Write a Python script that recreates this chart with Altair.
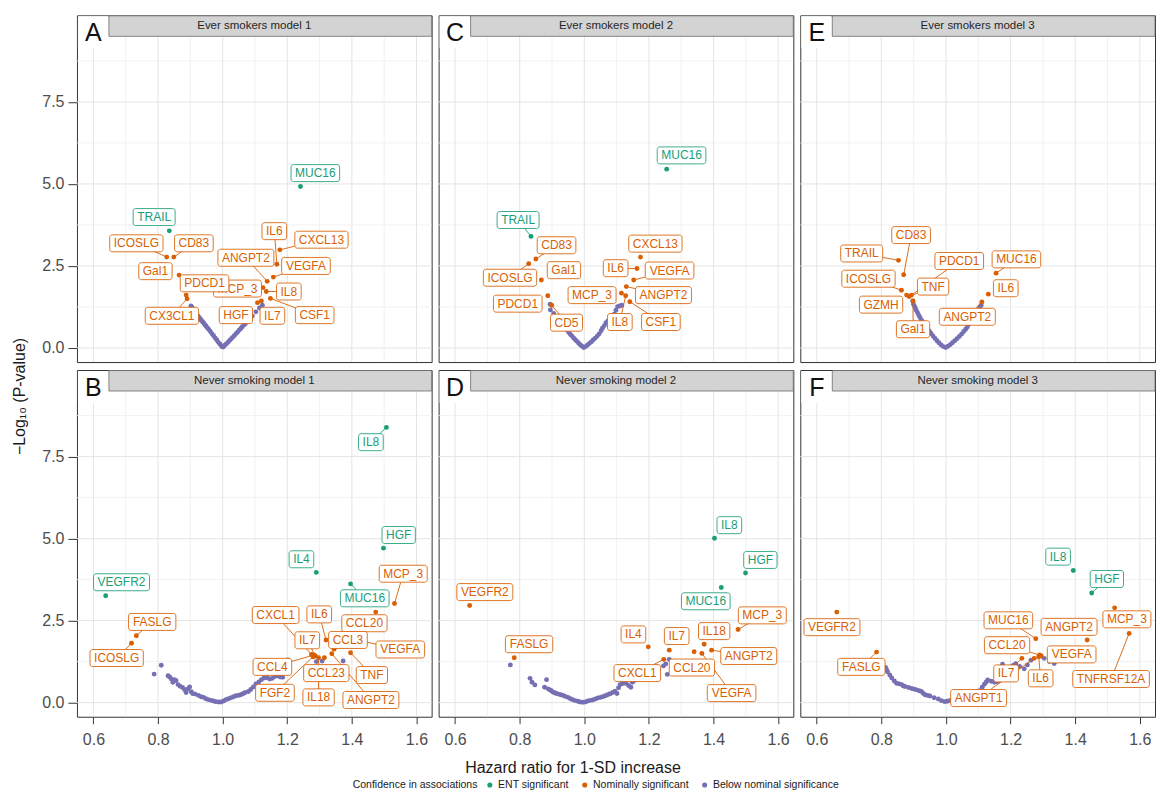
import math
import altair as alt
import pandas as pd

# ---------------- categories / palette ----------------
CAT_NAMES = {"E": "ENT significant", "N": "Nominally significant", "B": "Below nominal significance"}
CATS = ["ENT significant", "Nominally significant", "Below nominal significance"]
COLORS = ["#1B9E77", "#D95F02", "#7570B3"]

X_TICKS = [0.6, 0.8, 1.0, 1.2, 1.4, 1.6]
X_MINOR = [0.7, 0.9, 1.1, 1.3, 1.5]
Y_TICKS = [0.0, 2.5, 5.0, 7.5]
Y_MINOR = [1.25, 3.75, 6.25, 8.75]

# ---------------- panel data: (gene, HR, -log10 p, category, label x, label y) ----------------
A_LABELED = [
    ("MUC16", 1.241, 4.92, "E", 1.287, 5.33),
    ("TRAIL", 0.835, 3.57, "E", 0.788, 3.99),
    ("ICOSLG", 0.827, 2.77, "N", 0.733, 3.19),
    ("CD83", 0.849, 2.77, "N", 0.911, 3.19),
    ("Gal1", 0.865, 2.22, "N", 0.792, 2.34),
    ("PDCD1", 0.887, 1.61, "N", 0.944, 1.97),
    ("CX3CL1", 0.890, 1.50, "N", 0.843, 0.98),
    ("IL6", 1.168, 2.55, "N", 1.160, 3.56),
    ("CXCL13", 1.177, 2.99, "N", 1.306, 3.30),
    ("VEGFA", 1.157, 2.16, "N", 1.258, 2.50),
    ("ANGPT2", 1.138, 2.03, "N", 1.072, 2.75),
    ("MCP_3", 1.125, 1.84, "N", 1.046, 1.81),
    ("IL8", 1.135, 1.72, "N", 1.205, 1.72),
    ("CSF1", 1.148, 1.51, "N", 1.285, 1.00),
    ("IL7", 1.120, 1.43, "N", 1.154, 0.98),
    ("HGF", 1.108, 1.38, "N", 1.041, 1.00),
]
A_BACK = ["MCP_3"]
A_BELOW = [(0.902, 1.28), (0.905, 1.24), (0.910, 1.16), (0.915, 1.09), (0.920, 1.03), (0.924, 0.97),
           (0.928, 0.92), (0.931, 0.88), (0.934, 0.84), (0.938, 0.80), (0.941, 0.76), (0.945, 0.71),
           (0.949, 0.66), (0.953, 0.61), (0.957, 0.56), (0.962, 0.50), (0.967, 0.43), (0.972, 0.37),
           (0.977, 0.30), (0.982, 0.24), (0.987, 0.17), (0.992, 0.11), (0.997, 0.04), (1.002, 0.03),
           (1.007, 0.08), (1.012, 0.13), (1.018, 0.19), (1.024, 0.25), (1.030, 0.31), (1.036, 0.37),
           (1.042, 0.44), (1.047, 0.49), (1.052, 0.55), (1.057, 0.60), (1.061, 0.65), (1.066, 0.70),
           (1.070, 0.74), (1.075, 0.79), (1.080, 0.84), (1.084, 0.90), (1.092, 0.97), (1.103, 1.10),
           (1.114, 1.22), (1.123, 1.30)]

C_LABELED = [
    ("MUC16", 1.255, 5.45, "E", 1.301, 5.87),
    ("TRAIL", 0.835, 3.40, "E", 0.795, 3.90),
    ("CD83", 0.850, 2.71, "N", 0.914, 3.13),
    ("ICOSLG", 0.828, 2.57, "N", 0.770, 2.14),
    ("Gal1", 0.867, 2.07, "N", 0.937, 2.37),
    ("PDCD1", 0.887, 1.59, "N", 0.794, 1.35),
    ("CD5", 0.899, 1.30, "N", 0.945, 0.77),
    ("CXCL13", 1.174, 2.77, "N", 1.220, 3.18),
    ("IL6", 1.163, 2.42, "N", 1.097, 2.43),
    ("VEGFA", 1.153, 2.07, "N", 1.264, 2.36),
    ("ANGPT2", 1.130, 1.87, "N", 1.245, 1.61),
    ("MCP_3", 1.115, 1.67, "N", 1.024, 1.61),
    ("IL8", 1.128, 1.59, "N", 1.110, 0.79),
    ("CSF1", 1.141, 1.41, "N", 1.237, 0.79),
]
C_BACK = []
C_BELOW = [(0.894, 1.33), (0.895, 1.16), (0.905, 1.05), (0.915, 0.93), (0.922, 0.85), (0.928, 0.79),
           (0.933, 0.73), (0.938, 0.66), (0.943, 0.60), (0.948, 0.53), (0.952, 0.47), (0.957, 0.41),
           (0.962, 0.36), (0.967, 0.30), (0.972, 0.25), (0.977, 0.20), (0.982, 0.15), (0.987, 0.10),
           (0.992, 0.06), (0.998, 0.01), (1.004, 0.04), (1.010, 0.09), (1.016, 0.14), (1.022, 0.19),
           (1.028, 0.25), (1.034, 0.30), (1.040, 0.36), (1.046, 0.43), (1.052, 0.52), (1.056, 0.60),
           (1.062, 0.68), (1.067, 0.77), (1.073, 0.82), (1.080, 0.88), (1.087, 0.95), (1.093, 1.03),
           (1.098, 1.15), (1.103, 1.26), (1.110, 1.28), (1.116, 1.30)]

E_LABELED = [
    ("TRAIL", 0.853, 2.67, "N", 0.739, 2.88),
    ("CD83", 0.869, 2.23, "N", 0.892, 3.44),
    ("ICOSLG", 0.862, 1.76, "N", 0.760, 2.11),
    ("PDCD1", 0.893, 1.61, "N", 1.041, 2.65),
    ("TNF", 0.886, 1.57, "N", 0.960, 1.87),
    ("GZMH", 0.878, 1.61, "N", 0.799, 1.32),
    ("Gal1", 0.898, 1.43, "N", 0.898, 0.57),
    ("MUC16", 1.155, 2.28, "N", 1.218, 2.70),
    ("IL6", 1.131, 1.64, "N", 1.185, 1.82),
    ("ANGPT2", 1.111, 1.40, "N", 1.066, 0.95),
]
E_BACK = []
E_BELOW = [(0.897, 1.43), (0.899, 1.34), (0.902, 1.28), (0.905, 1.22), (0.908, 1.15), (0.912, 1.07),
           (0.916, 0.99), (0.920, 0.92), (0.925, 0.84), (0.931, 0.76), (0.936, 0.68), (0.942, 0.60),
           (0.948, 0.52), (0.954, 0.44), (0.960, 0.36), (0.966, 0.29), (0.972, 0.22), (0.978, 0.16),
           (0.985, 0.09), (0.992, 0.04), (0.999, 0.01), (1.006, 0.05), (1.013, 0.10), (1.020, 0.16),
           (1.027, 0.22), (1.034, 0.28), (1.041, 0.35), (1.048, 0.42), (1.055, 0.50), (1.061, 0.57),
           (1.066, 0.64), (1.071, 0.72), (1.077, 0.79), (1.083, 0.86), (1.088, 0.94), (1.093, 1.02),
           (1.098, 1.09), (1.102, 1.17), (1.105, 1.25), (1.109, 1.30)]

B_LABELED = [
    ("IL8", 1.507, 8.39, "E", 1.459, 7.94),
    ("HGF", 1.498, 4.71, "E", 1.545, 5.11),
    ("IL4", 1.290, 3.97, "E", 1.244, 4.37),
    ("MUC16", 1.396, 3.62, "E", 1.440, 3.18),
    ("VEGFR2", 0.638, 3.26, "E", 0.687, 3.67),
    ("MCP_3", 1.532, 3.02, "N", 1.559, 3.93),
    ("CCL20", 1.474, 2.76, "N", 1.439, 2.42),
    ("FASLG", 0.733, 2.04, "N", 0.782, 2.46),
    ("ICOSLG", 0.718, 1.81, "N", 0.672, 1.36),
    ("IL6", 1.320, 1.91, "N", 1.299, 2.69),
    ("CCL3", 1.345, 1.63, "N", 1.388, 1.91),
    ("VEGFA", 1.420, 1.90, "N", 1.550, 1.62),
    ("TNF", 1.396, 1.52, "N", 1.462, 0.84),
    ("ANGPT2", 1.338, 1.49, "N", 1.459, 0.08),
    ("CXCL1", 1.275, 1.47, "N", 1.164, 2.67),
    ("IL7", 1.287, 1.42, "N", 1.262, 1.90),
    ("CCL4", 1.283, 1.45, "N", 1.154, 1.09),
    ("FGF2", 1.280, 1.40, "N", 1.162, 0.30),
    ("CCL23", 1.315, 1.37, "N", 1.321, 0.90),
    ("IL18", 1.297, 1.37, "N", 1.297, 0.16),
]
B_BACK = []
B_BELOW = [(0.788, 0.87), (0.810, 1.14), (0.831, 0.82), (0.836, 0.78), (0.841, 0.72), (0.846, 0.62),
           (0.851, 0.70), (0.856, 0.67), (0.862, 0.55), (0.868, 0.50), (0.876, 0.46), (0.882, 0.40),
           (0.887, 0.31), (0.893, 0.42), (0.898, 0.48), (0.903, 0.33), (0.907, 0.28), (0.915, 0.26),
           (0.925, 0.22), (0.933, 0.18), (0.941, 0.16), (0.948, 0.12), (0.956, 0.09), (0.964, 0.07),
           (0.972, 0.05), (0.979, 0.03), (0.987, 0.02), (0.995, 0.02), (1.003, 0.05), (1.010, 0.09),
           (1.018, 0.12), (1.026, 0.15), (1.034, 0.18), (1.041, 0.21), (1.049, 0.22), (1.056, 0.24),
           (1.063, 0.27), (1.070, 0.31), (1.080, 0.34), (1.087, 0.40), (1.095, 0.48), (1.103, 0.57),
           (1.112, 0.63), (1.120, 0.70), (1.128, 0.75), (1.138, 0.76), (1.146, 0.72), (1.154, 0.74),
           (1.162, 0.80), (1.170, 0.82), (1.178, 0.78), (1.186, 0.77), (1.193, 1.10), (1.197, 1.20),
           (1.202, 1.30), (1.290, 1.25), (1.308, 1.27), (1.373, 1.27)]

D_LABELED = [
    ("IL8", 1.403, 5.01, "E", 1.449, 5.41),
    ("HGF", 1.499, 3.95, "E", 1.545, 4.35),
    ("MUC16", 1.424, 3.51, "E", 1.376, 3.09),
    ("VEGFR2", 0.645, 2.96, "N", 0.692, 3.37),
    ("MCP_3", 1.476, 2.23, "N", 1.551, 2.66),
    ("IL18", 1.371, 1.78, "N", 1.402, 2.18),
    ("ANGPT2", 1.394, 1.60, "N", 1.509, 1.42),
    ("IL4", 1.198, 1.70, "N", 1.152, 2.08),
    ("IL7", 1.263, 1.60, "N", 1.286, 2.03),
    ("FASLG", 0.783, 1.37, "N", 0.829, 1.78),
    ("CXCL1", 1.246, 1.32, "N", 1.164, 0.90),
    ("CCL20", 1.340, 1.55, "N", 1.333, 1.07),
    ("VEGFA", 1.364, 1.50, "N", 1.456, 0.29),
]
D_BACK = []
D_BELOW = [(0.771, 1.15), (0.832, 0.74), (0.838, 0.62), (0.847, 0.54), (0.877, 0.47), (0.883, 0.70),
           (0.888, 0.42), (0.893, 0.39), (0.898, 0.36), (0.903, 0.32), (0.908, 0.30), (0.913, 0.28),
           (0.920, 0.26), (0.927, 0.24), (0.934, 0.22), (0.941, 0.19), (0.949, 0.16), (0.957, 0.12),
           (0.964, 0.09), (0.972, 0.06), (0.980, 0.04), (0.987, 0.02), (0.995, 0.01), (1.003, 0.02),
           (1.011, 0.05), (1.019, 0.07), (1.026, 0.08), (1.034, 0.11), (1.042, 0.14), (1.050, 0.16),
           (1.057, 0.18), (1.065, 0.21), (1.072, 0.24), (1.080, 0.27), (1.088, 0.31), (1.095, 0.35),
           (1.101, 0.28), (1.106, 0.45), (1.111, 0.55), (1.118, 0.58), (1.124, 0.60), (1.129, 0.59),
           (1.137, 0.52), (1.144, 0.47), (1.149, 0.62), (1.154, 0.67), (1.245, 1.12), (1.252, 1.18),
           (1.257, 0.86), (1.263, 1.32)]

F_LABELED = [
    ("IL8", 1.394, 4.03, "E", 1.347, 4.45),
    ("HGF", 1.451, 3.34, "E", 1.498, 3.77),
    ("MCP_3", 1.522, 2.89, "N", 1.560, 2.54),
    ("TNFRSF12A", 1.567, 2.11, "N", 1.511, 0.72),
    ("ANGPT2", 1.437, 1.91, "N", 1.381, 2.31),
    ("VEGFR2", 0.662, 2.76, "N", 0.647, 2.30),
    ("FASLG", 0.785, 1.54, "N", 0.738, 1.09),
    ("MUC16", 1.278, 1.95, "N", 1.193, 2.51),
    ("CCL20", 1.290, 1.45, "N", 1.189, 1.75),
    ("VEGFA", 1.295, 1.42, "N", 1.389, 1.47),
    ("IL6", 1.287, 1.40, "N", 1.293, 0.74),
    ("IL7", 1.235, 1.35, "N", 1.186, 0.89),
    ("ANGPT1", 1.273, 1.35, "N", 1.101, 0.14),
]
F_BACK = []
F_BELOW = [(0.813, 1.07), (0.816, 1.00), (0.819, 0.94), (0.826, 0.84), (0.832, 0.75), (0.840, 0.66),
           (0.847, 0.59), (0.855, 0.57), (0.863, 0.55), (0.868, 0.51), (0.873, 0.49), (0.884, 0.46),
           (0.894, 0.43), (0.902, 0.41), (0.909, 0.39), (0.917, 0.36), (0.924, 0.34), (0.930, 0.28),
           (0.935, 0.24), (0.943, 0.22), (0.950, 0.20), (0.963, 0.15), (0.976, 0.11), (0.986, 0.06),
           (0.996, 0.03), (1.004, 0.04), (1.011, 0.06), (1.019, 0.08), (1.027, 0.10), (1.037, 0.13),
           (1.047, 0.16), (1.057, 0.19), (1.068, 0.21), (1.078, 0.26), (1.088, 0.31), (1.096, 0.33),
           (1.104, 0.36), (1.112, 0.47), (1.119, 0.56), (1.124, 0.62), (1.129, 0.69), (1.140, 0.65),
           (1.150, 0.62), (1.158, 0.64), (1.165, 0.67), (1.170, 0.84), (1.175, 1.17), (1.181, 1.02),
           (1.186, 0.92), (1.194, 1.00), (1.201, 1.09), (1.209, 1.14), (1.216, 1.19), (1.228, 1.10),
           (1.242, 1.03), (1.252, 1.15), (1.263, 1.29), (1.304, 1.35), (1.320, 1.25), (1.335, 1.19)]

# ---------------- layout constants ----------------
XMIN, XMAX = 0.549, 1.647
YMIN, YPLOT, YTOP = -0.43, 9.5, 10.14
W, H, STRIP = 355, 347, 21
SX = W / (XMAX - XMIN)
SY = H / (YTOP - YMIN)
FONT = "Liberation Sans"
LABEL_FS = 12
MIN_SEGMENT = 8  # px, like ggrepel's min.segment.length

CHAR_W = {'A': 667, 'B': 667, 'C': 722, 'D': 722, 'E': 667, 'F': 611, 'G': 778, 'H': 722, 'I': 278,
          'J': 500, 'K': 667, 'L': 556, 'M': 833, 'N': 722, 'O': 778, 'P': 667, 'Q': 778, 'R': 722,
          'S': 667, 'T': 611, 'U': 722, 'V': 667, 'W': 944, 'X': 667, 'Y': 667, 'Z': 611, '_': 556,
          'a': 556, 'l': 222}


def text_w(s):
    return sum(CHAR_W.get(ch, 556) for ch in s) * LABEL_FS / 1000.0


xs = alt.Scale(domain=[XMIN, XMAX], nice=False, zero=False)
ys = alt.Scale(domain=[YMIN, YTOP], nice=False, zero=False)
cscale = alt.Scale(domain=CATS, range=COLORS)

LEGEND = alt.Legend(title="Confidence in associations", orient="none", legendX=276, legendY=765,
                    direction="horizontal", titleOrient="left", titleFontSize=10.5,
                    titleFontWeight="normal", titleColor="#1a1a1a", titleFont=FONT,
                    labelFontSize=10.5, labelColor="#1a1a1a", labelFont=FONT, symbolSize=26,
                    symbolType="circle", symbolStrokeWidth=0, labelOffset=3, columnPadding=10,
                    titlePadding=7, padding=0)


def x_axis(show, with_title=False):
    if not show:
        return None
    kw = dict(values=X_TICKS, format=".1f", grid=False, domain=False, tickSize=7,
              tickColor="#333333", labelFontSize=16, labelColor="#4D4D4D", labelPadding=8,
              labelFlush=False, labelFont=FONT)
    if with_title:
        kw.update(title="Hazard ratio for 1-SD increase", titleX=134, titleY=51, titleFontSize=16,
                  titleFontWeight="normal", titleColor="#1a1a1a", titleBaseline="middle",
                  titleAlign="center", titleFont=FONT)
    else:
        kw["title"] = None
    return alt.Axis(**kw)


def y_axis(show, with_title=False):
    if not show:
        return None
    kw = dict(values=Y_TICKS, format=".1f", grid=False, domain=False, tickSize=9,
              tickColor="#333333", labelFontSize=16, labelColor="#4D4D4D", labelPadding=4,
              labelFlush=False, labelFont=FONT)
    if with_title:
        kw.update(title="\u2212Log\u2081\u2080 (P-value)", titleX=-57, titleY=381, titleAngle=270,
                  titleFontSize=16, titleFontWeight="normal", titleColor="#1a1a1a",
                  titleBaseline="middle", titleAlign="center", titleFont=FONT)
    else:
        kw["title"] = None
    return alt.Axis(**kw)


def panel(letter, title, labeled, below, back, xa, ya):
    X = lambda f: alt.X(f, scale=xs, axis=xa)
    Y = lambda f: alt.Y(f, scale=ys, axis=ya)

    # gridlines
    g_major, g_minor = [], []
    for v in X_TICKS:
        g_major.append({"x": v, "x2": v, "y": YMIN, "y2": YPLOT})
    for v in X_MINOR:
        g_minor.append({"x": v, "x2": v, "y": YMIN, "y2": YPLOT})
    for v in Y_TICKS:
        g_major.append({"x": XMIN, "x2": XMAX, "y": v, "y2": v})
    for v in Y_MINOR:
        g_minor.append({"x": XMIN, "x2": XMAX, "y": v, "y2": v})

    def grid_layer(rows, color, sw):
        return alt.Chart(pd.DataFrame(rows)).mark_rule(color=color, strokeWidth=sw).encode(
            x=X("x:Q"), x2="x2:Q", y=Y("y:Q"), y2="y2:Q")

    layers = [grid_layer(g_minor, "#EEEEEE", 0.8), grid_layer(g_major, "#E4E4E4", 1.0)]

    one = pd.DataFrame({"k": [0]})
    layers.append(alt.Chart(one).mark_rect(fill="white").encode(
        x=alt.value(1), x2=alt.value(31), y=alt.value(1), y2=alt.value(33)))
    layers.append(alt.Chart(one).mark_rect(fill="#D3D3D3", stroke="#6b6b6b", strokeWidth=0.8).encode(
        x=alt.value(32), x2=alt.value(W), y=alt.value(0.5), y2=alt.value(STRIP)))
    layers.append(alt.Chart(one).mark_text(fontSize=11.5, color="#262626", font=FONT,
                                           align="center", baseline="middle").encode(
        x=alt.value(W / 2), y=alt.value(STRIP / 2 + 0.5), text=alt.value(title)))
    layers.append(alt.Chart(one).mark_text(fontSize=25, color="#111111", font=FONT,
                                           align="center", baseline="alphabetic").encode(
        x=alt.value(16.5), y=alt.value(26), text=alt.value(letter)))

    # points
    prow = [{"hr": h, "lp": p, "cat": CAT_NAMES["B"]} for h, p in below]
    prow += [{"hr": h, "lp": p, "cat": CAT_NAMES[c]} for (_, h, p, c, _, _) in labeled]
    layers.append(alt.Chart(pd.DataFrame(prow)).mark_circle(size=24, opacity=1).encode(
        x=X("hr:Q"), y=Y("lp:Q"), color=alt.Color("cat:N", scale=cscale, legend=LEGEND)))

    # labels
    lrows = []
    for (g, h, p, c, lx, ly) in labeled:
        hw = (text_w(g) + 8) / 2.0
        hh = 8.5
        dx = (h - lx) * SX
        dy = (p - ly) * SY
        if abs(dx) <= hw and abs(dy) <= hh:
            seg = False
        else:
            tx = hw / abs(dx) if dx != 0 else 1e9
            ty = hh / abs(dy) if dy != 0 else 1e9
            t = min(tx, ty)
            seg = (1 - t) * math.hypot(dx, dy) > MIN_SEGMENT
        lrows.append({"label": g, "hr": h, "lp": p, "cat": CAT_NAMES[c], "lx": lx, "ly": ly,
                      "lx1": lx - hw / SX, "lx2": lx + hw / SX,
                      "ly1": ly - hh / SY, "ly2": ly + hh / SY,
                      "seg": seg, "back": g in back})
    ldf = pd.DataFrame(lrows)
    segdf = ldf[ldf["seg"]]
    if len(segdf):
        layers.append(alt.Chart(segdf).mark_rule(strokeWidth=0.9).encode(
            x=X("hr:Q"), y=Y("lp:Q"), x2="lx:Q", y2="ly:Q",
            stroke=alt.Stroke("cat:N", scale=cscale, legend=None)))
    for flag in (True, False):
        sub = ldf[ldf["back"] == flag]
        if not len(sub):
            continue
        layers.append(alt.Chart(sub).mark_rect(fill="white", strokeWidth=1, strokeOpacity=0.85,
                                               cornerRadius=2.5).encode(
            x=X("lx1:Q"), x2="lx2:Q", y=Y("ly1:Q"), y2="ly2:Q",
            stroke=alt.Stroke("cat:N", scale=cscale, legend=None)))
        layers.append(alt.Chart(sub).mark_text(fontSize=LABEL_FS, font=FONT, align="center",
                                               baseline="middle").encode(
            x=X("lx:Q"), y=Y("ly:Q"), text="label:N",
            fill=alt.Fill("cat:N", scale=cscale, legend=None)))

    return alt.layer(*layers).properties(width=W, height=H)


pA = panel("A", "Ever smokers model 1", A_LABELED, A_BELOW, A_BACK, x_axis(False), y_axis(True, True))
pC = panel("C", "Ever smokers model 2", C_LABELED, C_BELOW, C_BACK, x_axis(False), y_axis(False))
pE = panel("E", "Ever smokers model 3", E_LABELED, E_BELOW, E_BACK, x_axis(False), y_axis(False))
pB = panel("B", "Never smoking model 1", B_LABELED, B_BELOW, B_BACK, x_axis(True), y_axis(True))
pD = panel("D", "Never smoking model 2", D_LABELED, D_BELOW, D_BACK, x_axis(True, True), y_axis(False))
pF = panel("F", "Never smoking model 3", F_LABELED, F_BELOW, F_BACK, x_axis(True), y_axis(False))

chart = (
    alt.concat(pA, pC, pE, pB, pD, pF, columns=3, spacing={"row": 8, "column": 7}, bounds="flush")
    .properties(padding={"left": 3, "top": 6, "right": 0, "bottom": 0})
    .configure(font=FONT)
    .configure_view(stroke="#333333", strokeWidth=1)
)

chart.save("out.html", embed_options={"renderer": "svg", "actions": False})
